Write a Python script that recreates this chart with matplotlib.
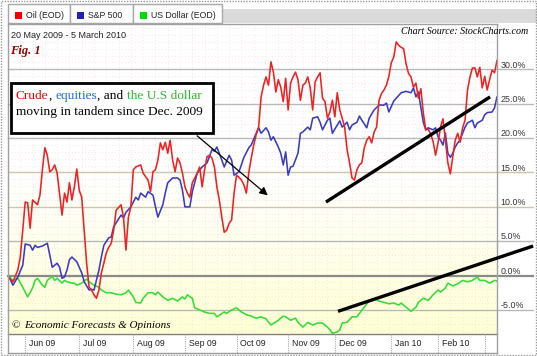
import numpy as np
import matplotlib.pyplot as plt
from matplotlib.patches import Rectangle
from matplotlib.colors import LinearSegmentedColormap

# trading-day index (0 = 20 May 2009) and % change from start
oil_day = [0, 2, 4, 5, 6, 7, 8, 9, 10, 12, 13, 14, 15, 16, 17, 18, 19, 20, 22, 23, 24, 25, 26, 27, 28, 29,
           30, 31, 32, 33, 34, 35, 36, 37, 38, 39, 40, 41, 42, 43, 44, 46, 47, 48, 49, 50, 51, 52, 54, 55,
           57, 58, 59, 60, 61, 62, 63, 64, 65, 66, 67, 68, 69, 70, 71, 72, 73, 74, 75, 77, 78, 79, 80, 81,
           82, 83, 84, 85, 86, 87, 88, 89, 90, 91, 92, 93, 94, 95, 96, 97, 98, 99, 100, 101, 102, 103, 104,
           105, 106, 107, 108, 109, 110, 111, 112, 113, 114, 115, 116, 117, 118, 119, 120, 121, 122, 123,
           124, 125, 126, 127, 128, 129, 130, 131, 132, 133, 134, 135, 136, 137, 138, 139, 140, 141, 142,
           143, 144, 145, 146, 147, 148, 149, 150, 151, 152, 153, 154, 155, 156, 157, 158, 159, 160, 161,
           162, 163, 164, 165, 166, 167, 168, 169, 170, 171, 172, 173, 174, 175, 176, 177, 178, 179, 180,
           181, 182, 183, 184, 185, 186, 187, 188, 189, 190, 191, 192, 193, 194, 195, 196, 197, 198, 199]
oil = [-0.2, -0.9, 0.8, 2.7, 6.6, 10.7, 10.6, 6.9, 11.0, 10.3, 11.7, 15.4, 18.6, 17.5, 15.1, 15.4, 16.1, 14.9,
       8.8, 12.0, 10.7, 13.5, 11.0, 12.9, 15.5, 12.4, 11.4, 6.6, 1.8, -1.7, -2.1, -2.8, -3.3, -2.1, 0.4, 1.8,
       3.3, 4.1, 4.7, 6.6, 9.5, 10.3, 8.5, 3.7, 8.5, 10.0, 15.4, 15.8, 16.1, 14.9, 13.9, 12.2, 15.1, 15.4,
       16.8, 19.3, 18.3, 19.4, 17.8, 19.7, 16.8, 15.1, 17.1, 16.4, 14.9, 12.9, 12.0, 11.4, 13.5, 14.9, 15.8,
       12.9, 15.4, 17.3, 17.5, 17.1, 15.8, 12.9, 11.0, 8.5, 6.3, 6.6, 7.6, 8.1, 12.0, 14.6, 14.3, 13.9, 13.2,
       12.0, 15.0, 17.1, 19.0, 20.5, 21.6, 26.0, 27.7, 28.9, 27.7, 31.1, 29.6, 26.7, 28.5, 27.4, 25.3, 28.7,
       24.1, 28.0, 28.9, 29.6, 28.5, 25.5, 27.7, 28.0, 28.9, 27.3, 24.1, 28.2, 28.9, 29.5, 25.8, 25.3, 22.9,
       23.8, 25.5, 23.1, 26.6, 24.1, 22.9, 21.6, 18.3, 16.4, 14.2, 13.9, 15.4, 16.1, 16.4, 18.6, 19.7, 20.2,
       19.3, 20.9, 21.6, 25.5, 26.5, 27.0, 27.7, 29.0, 31.0, 31.8, 34.0, 33.5, 33.2, 33.0, 30.8, 29.4, 28.9,
       27.4, 28.0, 25.8, 27.2, 23.7, 21.2, 21.3, 20.6, 19.5, 17.5, 19.3, 21.6, 22.8, 19.7, 16.4, 14.8, 17.2,
       19.7, 20.7, 19.4, 21.5, 22.6, 27.0, 28.9, 30.2, 30.2, 28.9, 30.3, 27.3, 29.0, 27.0, 28.5, 29.9, 29.5,
       31.3]

spx_day = [0, 2, 4, 6, 7, 9, 10, 11, 12, 14, 16, 17, 18, 20, 21, 22, 23, 24, 25, 26, 28, 30, 31, 33, 34, 35,
           37, 38, 39, 41, 42, 43, 46, 47, 48, 50, 52, 53, 54, 56, 57, 59, 60, 61, 63, 64, 65, 67, 69, 70, 71,
           72, 74, 75, 77, 79, 81, 83, 84, 85, 87, 88, 90, 91, 92, 94, 96, 98, 99, 101, 102, 103, 105, 106,
           107, 108, 110, 111, 112, 113, 114, 115, 116, 118, 119, 120, 122, 123, 124, 126, 127, 128, 130, 131,
           132, 134, 135, 136, 138, 139, 140, 142, 143, 144, 146, 147, 149, 151, 153, 154, 155, 157, 158, 160,
           161, 162, 164, 165, 166, 167, 168, 169, 170, 171, 173, 174, 175, 176, 177, 178, 179, 180, 181, 182,
           183, 184, 185, 186, 187, 189, 190, 191, 193, 194, 195, 197, 198, 199]
spx = [0.1, -1.4, -0.2, 1.5, 4.6, 4.4, 3.7, 4.4, 4.1, 4.3, 4.7, 3.0, 1.2, 1.8, 1.2, -0.4, -0.2, 0.8, 2.3, 2.7,
       2.0, 0.4, -0.9, -2.1, -2.0, -2.1, 0.8, 2.7, 4.4, 5.5, 5.6, 7.1, 8.8, 8.4, 9.2, 10.0, 11.4, 11.0, 12.0,
       11.4, 12.2, 11.7, 10.0, 8.5, 10.3, 12.0, 13.5, 14.2, 14.2, 13.9, 12.4, 10.0, 10.0, 12.2, 14.9, 15.8,
       16.4, 18.3, 18.1, 18.7, 16.8, 15.8, 17.5, 16.8, 14.6, 15.1, 17.2, 18.6, 19.0, 20.7, 21.5, 20.7, 21.5,
       20.9, 19.7, 20.2, 18.7, 17.8, 16.1, 18.0, 14.6, 15.8, 15.9, 17.8, 20.7, 20.9, 21.6, 21.2, 22.9, 23.1,
       22.3, 21.2, 22.6, 22.9, 20.7, 21.9, 22.5, 21.6, 22.3, 21.2, 21.9, 22.3, 23.2, 22.6, 21.5, 22.9, 24.1,
       24.8, 24.8, 25.1, 23.8, 25.4, 25.8, 26.6, 26.7, 26.8, 26.6, 27.3, 26.0, 26.7, 24.5, 22.3, 21.2, 21.5,
       21.2, 21.5, 20.2, 19.7, 19.0, 20.7, 17.8, 17.2, 17.8, 18.7, 19.3, 19.7, 20.7, 21.6, 22.2, 22.6, 21.5,
       22.2, 22.6, 23.4, 23.7, 23.8, 24.4, 26.0]

usd_day = [0, 2, 4, 6, 8, 10, 11, 12, 14, 15, 16, 18, 19, 20, 22, 23, 24, 26, 27, 28, 30, 32, 33, 35, 37, 38,
           40, 42, 44, 46, 48, 49, 51, 52, 54, 55, 57, 59, 60, 61, 63, 65, 67, 69, 71, 72, 73, 75, 76, 78, 80,
           82, 84, 85, 88, 89, 91, 93, 95, 97, 99, 101, 103, 105, 107, 110, 112, 113, 115, 117, 118, 120, 122,
           124, 126, 128, 130, 131, 132, 134, 135, 136, 138, 140, 142, 143, 145, 147, 149, 151, 153, 155, 157,
           159, 160, 162, 164, 166, 167, 169, 171, 173, 175, 176, 178, 179, 181, 183, 185, 187, 189, 191, 192,
           194, 196, 198, 199]
usd = [0.1, -0.7, -0.4, -1.7, -3.1, -1.8, -0.7, -0.4, -1.4, -1.7, -0.7, -0.1, -0.7, -0.4, -1.1, -0.7, -0.9,
       -1.1, -1.1, -1.4, -1.1, -0.5, -0.9, -1.4, -1.7, -2.1, -2.5, -2.5, -2.7, -2.8, -2.5, -2.1, -3.1, -3.9,
       -4.0, -3.3, -2.5, -2.5, -2.8, -2.4, -3.1, -3.6, -3.3, -3.7, -3.1, -3.4, -2.8, -3.3, -4.7, -5.0, -5.3,
       -5.5, -5.5, -6.0, -5.3, -5.5, -5.0, -4.7, -5.3, -5.7, -5.9, -6.2, -6.0, -6.3, -7.2, -6.5, -5.9, -6.0,
       -6.5, -6.2, -6.8, -7.5, -6.8, -7.2, -6.9, -6.9, -7.5, -7.9, -8.4, -8.2, -7.9, -6.9, -6.8, -6.0, -6.0,
       -5.5, -4.6, -3.6, -3.4, -3.7, -3.9, -4.1, -4.0, -4.3, -4.0, -4.6, -5.2, -4.6, -3.9, -3.3, -3.6, -2.8,
       -2.1, -2.4, -1.8, -1.1, -1.5, -1.2, -0.7, -0.9, -0.7, -0.2, -0.7, -0.7, -1.1, -0.7, -0.8]

months = ['Jun 09', 'Jul 09', 'Aug 09', 'Sep 09', 'Oct 09', 'Nov 09', 'Dec 09', 'Jan 10', 'Feb 10']
month_start = [7, 29, 51, 72, 93, 114, 133, 156, 175, 194]
ytick_vals = [-5, 0, 5, 10, 15, 20, 25, 30]

# hand-drawn trend lines (day, %)
trend1_day = [129.4, 196.2]
trend1_val = [10.7, 26.0]
trend2_day = [134.3, 213.7]
trend2_val = [-5.2, 4.3]

W, H = 537, 356
fig = plt.figure(figsize=(W / 100, H / 100), dpi=100)
fig.patch.set_facecolor('white')

def fx(x):
    return x / W

def fy(y):
    return 1 - y / H

YMIN, YMAX = -8.5, 36.6
XMIN, XMAX = 0, 199
ax = fig.add_axes([fx(8), fy(334), fx(497) - fx(8), fy(24) - fy(334)])
ax.set_xlim(XMIN, XMAX)
ax.set_ylim(YMIN, YMAX)
for s in ax.spines.values():
    s.set_visible(False)
ax.set_xticks([])
ax.set_yticks([])
ax.patch.set_alpha(0)

# pale background, white at top fading to light yellow
bg = LinearSegmentedColormap.from_list('bg', ['#ffffff', '#ffffff', '#ffffd4'])
ax.imshow(np.linspace(0, 1, 256).reshape(-1, 1), cmap=bg, extent=[XMIN, XMAX, YMIN, YMAX],
          aspect='auto', origin='upper', zorder=0)

# faint dotted grid
for v in range(-8, 37):
    ax.axhline(v, color='#f2dcdc', lw=0.6, ls=(0, (1, 3)), zorder=1)
for d in range(0, 200, 5):
    ax.axvline(d, color='#f2dcdc', lw=0.6, ls=(0, (1, 3)), zorder=1)

# major gridlines + labels at right
x_right = (533 - 8) / 2.457
for v in ytick_vals:
    if v == 0:
        c, lw = '#8a8a8a', 1.6
    elif v in (10, 15):
        c, lw = '#cfc4a4', 1.0
    else:
        c, lw = '#b8b8b8', 1.0
    ax.plot([XMIN, x_right], [v, v], color=c, lw=lw, clip_on=False, zorder=2)
    ax.text(200.4, v + 0.25, '%.1f%%' % v, fontsize=6.4, family=['Liberation Sans', 'DejaVu Sans'],
            color='#333333', ha='left', va='baseline', clip_on=False, zorder=3)

# series
ax.plot(usd_day, usd, color='#33dd33', lw=1.15, zorder=4)
ax.plot(spx_day, spx, color='#3b3bbf', lw=1.15, zorder=5)
ax.plot(oil_day, oil, color='#ee2222', lw=1.15, zorder=6)

# date strip
y_strip = (275.5 - 353) / 6.87
ax.plot([XMIN, XMAX], [YMIN, YMIN], color='#808080', lw=1.0, clip_on=False, zorder=7)
ax.plot([XMIN, XMAX], [y_strip, y_strip], color='#9a9a9a', lw=1.0, clip_on=False, zorder=7)
ax.plot([XMAX, XMAX], [y_strip, YMAX], color='#a0a0a0', lw=1.0, clip_on=False, zorder=7)
ax.plot([XMIN, XMIN], [y_strip, YMAX], color='#a0a0a0', lw=1.0, clip_on=False, zorder=7)
for d in month_start:
    ax.plot([d, d], [YMIN, y_strip], color='#a8a8a8', lw=0.8, ls=(0, (1, 1)), clip_on=False, zorder=7)
for d, lab in zip(month_start, months):
    ax.text(d + 1.6, (YMIN + y_strip) / 2, lab, fontsize=6.3, family=['Liberation Sans', 'DejaVu Sans'],
            color='#222222', ha='left', va='center', clip_on=False)

# trend lines
ax.plot(trend1_day, trend1_val, color='black', lw=2.4, solid_capstyle='butt', clip_on=False, zorder=8)
ax.plot(trend2_day, trend2_val, color='black', lw=2.4, solid_capstyle='butt', clip_on=False, zorder=8)

# callout arrow
ax.annotate('', xy=(106.6, 11.4), xytext=(76.1, 20.6),
            arrowprops=dict(arrowstyle='-|>', color='black', lw=0.9, mutation_scale=12), zorder=9)

# callout box
fig.add_artist(Rectangle((fx(11), fy(133)), fx(213) - fx(11), fy(83) - fy(133), transform=fig.transFigure,
                         facecolor='white', edgecolor='black', lw=2.0, zorder=10))
serif = ['Liberation Serif', 'DejaVu Serif']
fig.canvas.draw()
rend = fig.canvas.get_renderer()
x0 = 16
for s, c in [('Crude', '#ee0000'), (', ', 'black'), ('equities', '#1f6fe8'), (', and ', 'black'),
             ('the U.S dollar', '#2dbb2d')]:
    t = fig.text(x0 / W, fy(99), s, color=c, fontsize=9.6, family=serif, va='baseline', zorder=11)
    x0 = t.get_window_extent(renderer=rend).x1
fig.text(fx(16), fy(115), 'moving in tandem since Dec. 2009', color='black', fontsize=9.6, family=serif,
         va='baseline', zorder=11)

# tabs
fig.add_artist(Rectangle((fx(222), fy(23)), fx(537) - fx(222), fy(9) - fy(23), transform=fig.transFigure,
                         facecolor='#dadada', edgecolor='none'))
fig.add_artist(plt.Line2D([fx(8), fx(497)], [fy(23.5), fy(23.5)], color='#a0a0a0', lw=1.0))
tabs = [(8, 70, 'Oil (EOD)', '#ee0000'), (70, 133, 'S&P 500', '#2020c0'), (133, 222, 'US Dollar (EOD)', '#00dd00')]
for a, b, lab, c in tabs:
    fig.add_artist(Rectangle((fx(a), fy(23)), fx(b) - fx(a), fy(4) - fy(23), transform=fig.transFigure,
                             facecolor='white', edgecolor='#a8a8a8', lw=1.0))
    fig.add_artist(Rectangle((fx(a + 7), fy(18.5)), fx(7), fy(0) - fy(7), transform=fig.transFigure,
                             facecolor=c, edgecolor='none'))
    fig.text(fx(a + 18), fy(15), lab, fontsize=6.3, family=['Liberation Sans', 'DejaVu Sans'],
             color='#222222', va='center')

# header texts
fig.text(fx(11), fy(36), '20 May 2009 - 5 March 2010', fontsize=6.5,
         family=['Liberation Sans', 'DejaVu Sans'], color='#222222', va='center')
fig.text(fx(528), fy(32), 'Chart Source: StockCharts.com', fontsize=7.2, family=serif, style='italic',
         color='black', ha='right', va='center')
fig.text(fx(10), fy(51), 'Fig. 1', fontsize=9, family=serif, style='italic', weight='bold',
         color='#990000', va='center')
fig.text(fx(11), fy(326), '\u00a9', fontsize=8, family=serif, color='black', va='center', zorder=11)
fig.text(fx(24), fy(326), 'Economic Forecasts & Opinions', fontsize=8, family=serif, style='italic',
         color='black', va='center', zorder=11)

# outer frame
fig.add_artist(Rectangle((0.001, 0.002), 0.997, 0.995, transform=fig.transFigure, fill=False,
                         edgecolor='#9a9a9a', lw=1.0, ls=(0, (1, 1))))

fig.savefig('out.png', dpi=100)
